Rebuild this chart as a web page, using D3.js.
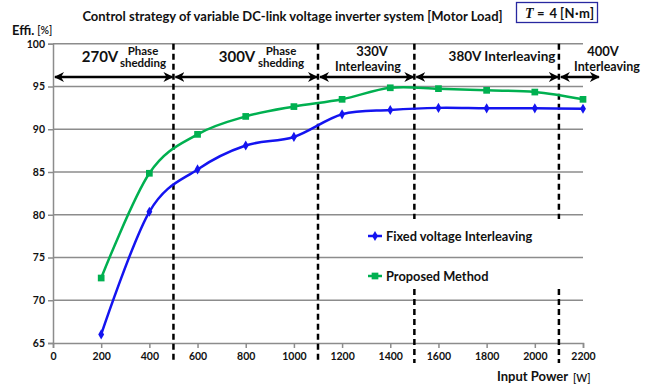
<!DOCTYPE html>
<html>
<head>
<meta charset="utf-8">
<script src="https://cdn.jsdelivr.net/npm/d3@7/dist/d3.min.js"></script>
<style>
  html, body { margin: 0; padding: 0; background: #fff; }
  svg { display: block; font-family: Lato, "Noto Sans", sans-serif; }
  text { font-weight: bold; fill: #111; }
</style>
</head>
<body>
<svg id="chart" width="656" height="387"></svg>
<script>
// Input power points [W]
const powers = [200, 400, 600, 800, 1000, 1200, 1400, 1600, 1800, 2000, 2200];
// Efficiency [%] of each method
const fixedInterleaving = [66.0, 80.35, 85.3, 88.1, 89.1, 91.75, 92.25, 92.5, 92.45, 92.45, 92.4];
const proposedMethod    = [72.6, 84.85, 89.4, 91.5, 92.65, 93.5, 94.85, 94.75, 94.55, 94.35, 93.5];

const xTicks = [0, 200, 400, 600, 800, 1000, 1200, 1400, 1600, 1800, 2000, 2200];
const yTicks = [65, 70, 75, 80, 85, 90, 95, 100];

// DC-link voltage mode boundaries [W]
const boundaries = [500, 1100, 1500, 2100];
// Operating mode bands: from / to power, voltage label and mode label
const modeStart = [0, 500, 1100, 1500, 2100];
const modeEnd   = [500, 1100, 1500, 2100, 2270];
const modeVolt  = ["270V", "300V", "330V", "380V Interleaving", "400V"];
const modeKind  = ["Phase\nshedding", "Phase\nshedding", "Interleaving", "", "Interleaving"];

const seriesNames = ["Fixed voltage Interleaving", "Proposed Method"];
const seriesColors = ["#1414f0", "#00b050"];

const svg = d3.select("#chart");

const x = d3.scaleLinear().domain([0, 2200]).range([53, 583]);
const y = d3.scaleLinear().domain([65, 100]).range([343, 43.75]);

// Horizontal gridlines
svg.append("g").selectAll("line").data(yTicks.slice(1)).join("line")
  .attr("x1", x(0)).attr("x2", x(2200))
  .attr("y1", d => y(d)).attr("y2", d => y(d))
  .attr("stroke", "#8c8c8c").attr("stroke-width", 1.5);

// Axes
const xAxis = svg.append("g").attr("transform", `translate(0,${y(65)})`)
  .call(d3.axisBottom(x).tickValues(xTicks).tickFormat(d3.format("d")).tickSize(5).tickPadding(5));
const yAxis = svg.append("g").attr("transform", `translate(${x(0)},0)`)
  .call(d3.axisLeft(y).tickValues(yTicks).tickSize(5).tickPadding(3));
[xAxis, yAxis].forEach(g => {
  g.select(".domain").attr("stroke", "#8c8c8c").attr("stroke-width", 1.5);
  g.selectAll(".tick line").attr("stroke", "#8c8c8c").attr("stroke-width", 1.5);
  g.selectAll(".tick text").attr("font-size", 10.5).attr("font-family", "Lato, sans-serif")
    .attr("font-weight", "bold").attr("fill", "#111");
});

// Mode boundaries (the two right ones break around the legend)
const dashSegs = [];
boundaries.forEach(b => {
  if (b >= 1500) {
    dashSegs.push({ v: b, y1: y(100), y2: 219 });
    dashSegs.push({ v: b, y1: 289, y2: 363 });
  } else {
    dashSegs.push({ v: b, y1: y(100), y2: 363 });
  }
});
svg.append("g").selectAll("line").data(dashSegs).join("line")
  .attr("x1", d => x(d.v)).attr("x2", d => x(d.v))
  .attr("y1", d => d.y1).attr("y2", d => d.y2)
  .attr("stroke", "#000").attr("stroke-width", 2.5).attr("stroke-dasharray", "6,4");

// Mode arrows
const defs = svg.append("defs");
defs.append("marker").attr("id", "ah").attr("viewBox", "0 0 10 10")
  .attr("refX", 9).attr("refY", 5).attr("markerWidth", 4).attr("markerHeight", 4)
  .attr("orient", "auto-start-reverse").attr("markerUnits", "strokeWidth")
  .append("path").attr("d", "M0,0 L10,5 L0,10 L3,5 Z").attr("fill", "#000");
const arrowY = 77;
svg.append("g").selectAll("line").data(modeStart).join("line")
  .attr("x1", (d, i) => x(d) + 2).attr("x2", (d, i) => x(modeEnd[i]) - 1)
  .attr("y1", arrowY).attr("y2", arrowY)
  .attr("stroke", "#000").attr("stroke-width", 2.5)
  .attr("marker-start", "url(#ah)").attr("marker-end", "url(#ah)");

// Mode labels
const lab = svg.append("g");
const labelPos = [
  { vx: 100, vy: 62, vs: 15, kx: 143, ky: 55 },
  { vx: 237, vy: 62, vs: 15, kx: 281, ky: 55 },
  { vx: 372, vy: 55.5, vs: 13, kx: 368, ky: 70.5 },
  { vx: 502, vy: 61, vs: 13.5, kx: 0, ky: 0 },
  { vx: 603, vy: 55.5, vs: 13, kx: 607, ky: 70.5 }
];
modeVolt.forEach((v, i) => {
  const p = labelPos[i];
  lab.append("text").attr("x", p.vx).attr("y", p.vy).attr("text-anchor", "middle")
    .attr("font-size", p.vs).attr("font-weight", i < 2 ? "bold" : "600").text(v);
  const lines = modeKind[i].split("\n").filter(s => s);
  if (lines.length === 2) {
    lines.forEach((s, j) => lab.append("text").attr("x", p.kx).attr("y", p.ky + j * 11.5)
      .attr("text-anchor", "middle").attr("font-size", 11.5).attr("font-weight", "600").text(s));
  } else if (lines.length === 1) {
    lab.append("text").attr("x", p.kx).attr("y", p.ky).attr("text-anchor", "middle")
      .attr("font-size", 12.5).attr("font-weight", "600").text(lines[0]);
  }
});

// Series curves and markers
const line = d3.line().curve(d3.curveCatmullRom.alpha(0))
  .x(d => x(d[0])).y(d => y(d[1]));
const series = [fixedInterleaving, proposedMethod];
series.forEach((vals, si) => {
  const pts = powers.map((p, i) => [p, vals[i]]);
  svg.append("path").datum(pts).attr("d", line)
    .attr("fill", "none").attr("stroke", seriesColors[si]).attr("stroke-width", 2.5);
  const sym = si === 0 ? d3.symbolDiamond : d3.symbolSquare;
  const size = si === 0 ? 30 : 45;
  svg.append("g").selectAll("path").data(pts).join("path")
    .attr("transform", d => `translate(${x(d[0])},${y(d[1])})`)
    .attr("d", d3.symbol(sym, size)).attr("fill", seriesColors[si]);
});

// Legend
const legY = [236, 276];
seriesNames.forEach((n, i) => {
  svg.append("line").attr("x1", 368).attr("x2", 382).attr("y1", legY[i]).attr("y2", legY[i])
    .attr("stroke", seriesColors[i]).attr("stroke-width", 2.5);
  svg.append("path").attr("transform", `translate(375,${legY[i]})`)
    .attr("d", d3.symbol(i === 0 ? d3.symbolDiamond : d3.symbolSquare, i === 0 ? 30 : 45))
    .attr("fill", seriesColors[i]);
  svg.append("text").attr("x", 386).attr("y", legY[i] + 4.5)
    .attr("font-size", 12.8).attr("font-weight", "bold").text(n);
});

// Title
svg.append("text").attr("x", 292.5).attr("y", 21).attr("text-anchor", "middle")
  .attr("font-size", 13).attr("font-weight", "bold")
  .text("Control strategy of variable DC-link voltage inverter system [Motor Load]");

// Torque condition box
svg.append("rect").attr("x", 516.5).attr("y", 2.5).attr("width", 81).attr("height", 20)
  .attr("fill", "#fff").attr("stroke", "#2828a0").attr("stroke-width", 1.3);
svg.append("text").attr("x", 525).attr("y", 17.5).attr("font-size", 14)
  .attr("font-family", "Liberation Serif, serif").attr("font-style", "italic").attr("font-weight", "bold").text("T");
svg.append("text").attr("x", 537).attr("y", 17.5).attr("font-size", 13).text("=");
svg.append("text").attr("x", 549.5).attr("y", 17.5).attr("font-size", 13).text("4");
svg.append("text").attr("x", 560).attr("y", 17.5).attr("font-size", 13).attr("font-weight", "600")
  .attr("textLength", 34).text("[N·m]");

// Axis titles
const yt = svg.append("text").attr("x", 12).attr("y", 35).attr("font-size", 13);
yt.append("tspan").text("Effi.");
yt.append("tspan").attr("font-size", 10.5).attr("font-weight", "600").attr("dx", 3).attr("dy", -1).text("[%]");
const xt = svg.append("text").attr("x", 497).attr("y", 381).attr("font-size", 13);
xt.append("tspan").text("Input Power");
xt.append("tspan").attr("font-size", 10.5).attr("font-weight", "600").attr("dx", 5).attr("dy", 1).text("[W]");
</script>
</body>
</html>
